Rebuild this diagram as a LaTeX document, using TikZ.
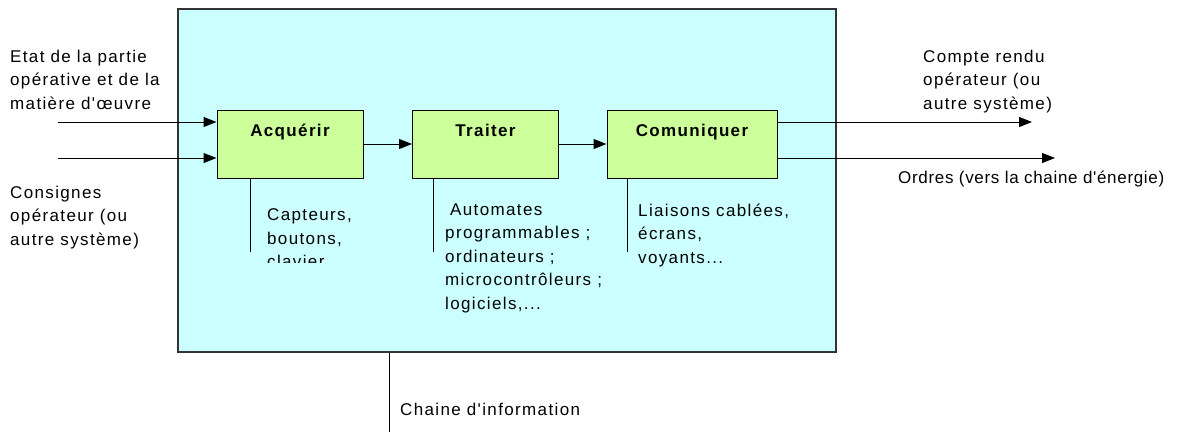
\documentclass[tikz,border=0pt]{standalone}
\usepackage{fontspec}
\usetikzlibrary{arrows.meta}
\newfontfamily\uifont{Liberation Sans}[LetterSpace=8]
\newfontfamily\uifontn{Liberation Sans}[LetterSpace=4]
\definecolor{chaincyan}{HTML}{CCFFFF}
\definecolor{blockgreen}{HTML}{CCFF99}
\definecolor{edgegray}{HTML}{333333}
\begin{document}
\begin{tikzpicture}[x=1pt,y=-1pt,
  txt/.style={font=\uifont\fontsize{17}{23.5}\selectfont, align=left, inner sep=0pt, anchor=north west},
  bigbox/.style={draw=edgegray, line width=1.3pt, fill=chaincyan, minimum width=658pt, minimum height=343pt, inner sep=0pt},
  block/.style={draw=black, line width=1pt, fill=blockgreen, minimum width=146pt, inner sep=0pt, text height=26.5pt, text depth=41.5pt, font=\uifont\bfseries\fontsize{17}{20}\selectfont},
  arr/.style={draw=black, line width=1pt, -{Triangle[length=13pt,width=10pt]}},
  ln/.style={draw=black, line width=1pt}]
\useasboundingbox (0,0) rectangle (1177,432);
\node[bigbox] (chain) at (507,180.5) {};
\node[block] (acq) at (290,144) {Acquérir};
\node[block] (trt) at (485.5,144) {Traiter};
\node[block, minimum width=170pt] (com) at (692,144) {Comuniquer};
% inputs
\coordinate (in1) at (58,122);
\coordinate (in2) at (58,158);
\draw[arr] (in1) -- (in1 -| acq.west);
\draw[arr] (in2) -- (in2 -| acq.west);
% chain
\draw[arr] (acq.east) -- (trt.west);
\draw[arr] (trt.east) -- (com.west);
% outputs
\coordinate (out1) at (1032,122);
\coordinate (out2) at (1055,158);
\draw[arr] (out1 -| com.east) -- (out1);
\draw[arr] (out2 -| com.east) -- (out2);
% vertical lines
\coordinate (acqd) at (250,252);
\coordinate (trtd) at (433,252);
\coordinate (comd) at (627,252);
\coordinate (chaind) at (389,432);
\draw[ln] (acqd |- acq.south) -- (acqd);
\draw[ln] (trtd |- trt.south) -- (trtd);
\draw[ln] (comd |- com.south) -- (comd);
\draw[ln] (chaind |- chain.south) -- (chaind);
% texts
\node[txt] (etat) at (10,49.5) {Etat de la partie\\opérative et de la\\matière d'œuvre};
\node[txt] (cons) at (10,185.5) {Consignes\\opérateur (ou\\autre système)};
\begin{scope}
\clip (255,195) rectangle (420,262);
\node[txt] (capt) at (267,208.5) {Capteurs,\\boutons,\\clavier};
\end{scope}
\node[txt] (auto) at (445,203.5) {\hspace{5pt}Automates\\programmables ;\\ordinateurs ;\\microcontrôleurs ;\\logiciels,...};
\node[txt] (liai) at (638,203.5) {Liaisons cablées,\\écrans,\\voyants...};
\node[txt] (cr) at (923,49.5) {Compte rendu\\opérateur (ou\\autre système)};
\node[txt, font=\uifontn\fontsize{17}{23.5}\selectfont] (ord) at (898,170.5) {Ordres (vers la chaine d'énergie)};
\node[txt] (ci) at (400,402.5) {Chaine d'information};
\end{tikzpicture}
\end{document}
